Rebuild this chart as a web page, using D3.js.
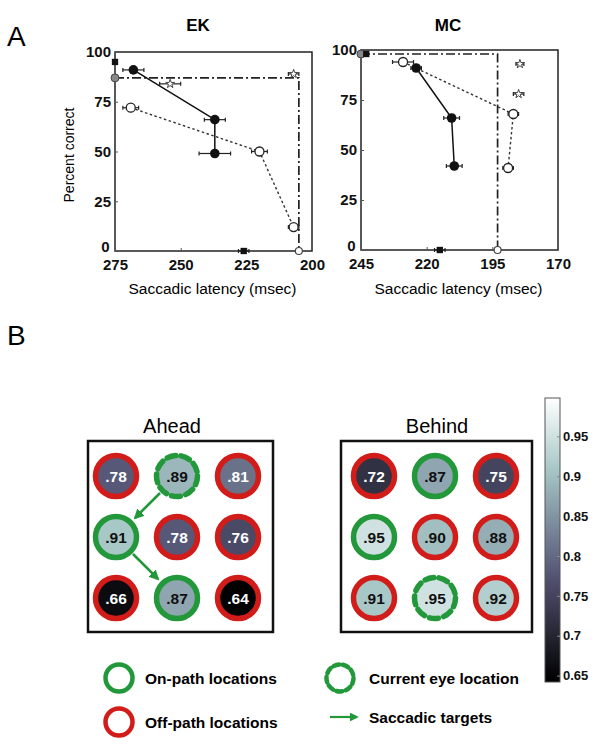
<!DOCTYPE html>
<html lang="en">
<head>
<meta charset="utf-8">
<title>Saccade figure</title>
<script src="https://cdn.jsdelivr.net/npm/d3@7"></script>
<style>
body { margin: 0; background: #fff; }
text { font-family: "Liberation Sans", Arial, Helvetica, sans-serif; }
</style>
</head>
<body>
<script>

// ---- Panel A data (latency in msec, percent correct) ----
var yTicks = [0, 25, 50, 75, 100];

var ekTicks = [275, 250, 225, 200];
var ekFilled = [{lat: 268, pc: 91, err: 4}, {lat: 237, pc: 66, err: 4}, {lat: 237, pc: 49, err: 6}];
var ekOpen = [{lat: 269, pc: 72, err: 3}, {lat: 220, pc: 50, err: 3}, {lat: 207, pc: 12, err: 2}];
var ekBound = [{lat: 275, pc: 87}, {lat: 205, pc: 87}, {lat: 205, pc: 0}];
var ekStars = [{lat: 254, pc: 84, err: 4}, {lat: 207, pc: 89, err: 2}];
var ekDots = [{lat: 275, pc: 95, err: 0}, {lat: 226, pc: 0, err: 2}];

var mcTicks = [245, 220, 195, 170];
var mcFilled = [{lat: 224, pc: 91, err: 2}, {lat: 210.5, pc: 66, err: 3}, {lat: 209.5, pc: 42, err: 3}];
var mcOpen = [{lat: 229, pc: 94, err: 4}, {lat: 187, pc: 68, err: 2}, {lat: 189, pc: 41, err: 2}];
var mcBound = [{lat: 245, pc: 98}, {lat: 193, pc: 98}, {lat: 193, pc: 0}];
var mcStars = [{lat: 184.5, pc: 93, err: 1.5}, {lat: 185, pc: 78, err: 2}];
var mcDots = [{lat: 243, pc: 98, err: 0}, {lat: 215, pc: 0, err: 2}];

// ---- Panel B data (proportion correct per grid location, row by row) ----
var aheadValues = [[.78, .89, .81], [.91, .78, .76], [.66, .87, .64]];
var aheadTypes = [["off", "eye", "off"], ["on", "off", "off"], ["off", "on", "off"]];
var aheadSaccades = [{from: [1, 0], to: [0, 1]}, {from: [0, 1], to: [1, 2]}];

var behindValues = [[.72, .87, .75], [.95, .90, .88], [.91, .95, .92]];
var behindTypes = [["off", "on", "off"], ["on", "off", "off"], ["off", "eye", "off"]];

var colorTicks = [0.65, 0.7, 0.75, 0.8, 0.85, 0.9, 0.95];
var legendItems = [
    {type: "on", label: "On-path locations"},
    {type: "off", label: "Off-path locations"},
    {type: "eye", label: "Current eye location"},
    {type: "arrow", label: "Saccadic targets"}
];

var w = 602;
var h = 749;
var green = "#22983a";
var red = "#d21c1a";

var svg = d3.select("body")
    .append("svg")
    .attr("width", w)
    .attr("height", h);

svg.append("rect").attr("width", w).attr("height", h).attr("fill", "#fff");

var defs = svg.append("defs");
defs.append("marker")
    .attr("id", "arrowhead")
    .attr("viewBox", "0 0 10 10")
    .attr("refX", 8).attr("refY", 5)
    .attr("markerWidth", 4).attr("markerHeight", 4)
    .attr("orient", "auto")
    .append("path")
    .attr("d", "M0,0L10,5L0,10Z")
    .attr("fill", green);

// panel letters
svg.append("text").attr("x", 7).attr("y", 46).attr("font-size", 28).text("A");
svg.append("text").attr("x", 7).attr("y", 345).attr("font-size", 28).text("B");

// ---------------- Panel A ----------------
function drawPlot(opt) {
    var x = d3.scaleLinear().domain(opt.xDomain).range([opt.left, opt.right]);
    var y = d3.scaleLinear().domain([0, 100]).range([opt.bottom, opt.top]);
    var g = svg.append("g");

    g.append("rect")
        .attr("x", opt.left).attr("y", opt.top)
        .attr("width", opt.right - opt.left).attr("height", opt.bottom - opt.top)
        .attr("fill", "none").attr("stroke", "#222").attr("stroke-width", 1.5);

    var yAxis = g.append("g")
        .attr("transform", "translate(" + opt.left + ",0)")
        .call(d3.axisLeft(y).tickValues(yTicks).tickSizeInner(-3).tickSizeOuter(0).tickPadding(4));
    var xAxis = g.append("g")
        .attr("transform", "translate(0," + opt.bottom + ")")
        .call(d3.axisBottom(x).tickValues(opt.ticks).tickSizeInner(-3).tickSizeOuter(0).tickPadding(8));
    [xAxis, yAxis].forEach(function(a) {
        a.select(".domain").remove();
        a.selectAll("line").attr("stroke", "#555");
        a.selectAll("text")
            .attr("font-size", 15).attr("font-weight", "bold")
            .attr("font-family", "Liberation Sans, Arial, sans-serif")
            .attr("fill", "#111");
    });
    // the zero label sits just above the corner, clear of the first x label
    yAxis.selectAll(".tick")
        .filter(function(d) { return d === 0; })
        .select("text").attr("dy", "0.02em").attr("dx", "-0.1em");

    g.append("text")
        .attr("x", opt.titleX).attr("y", 31)
        .attr("text-anchor", "middle")
        .attr("font-size", 17).attr("font-weight", "bold")
        .text(opt.title);

    g.append("text")
        .attr("x", (opt.left + opt.right) / 2 - 1).attr("y", 294)
        .attr("text-anchor", "middle")
        .attr("font-size", 15.5)
        .text("Saccadic latency (msec)");

    if (opt.yLabel) {
        g.append("text")
            .attr("transform", "translate(74,155) rotate(-90)")
            .attr("text-anchor", "middle")
            .attr("font-size", 14)
            .text("Percent correct");
    }

    var line = d3.line().x(function(d) { return x(d.lat); }).y(function(d) { return y(d.pc); });

    g.append("path").datum(opt.bound)
        .attr("d", line).attr("fill", "none")
        .attr("stroke", "#222").attr("stroke-width", 1.7)
        .attr("stroke-dasharray", "9,3,2,3");
    g.append("path").datum(opt.open)
        .attr("d", line).attr("fill", "none")
        .attr("stroke", "#333").attr("stroke-width", 1.4)
        .attr("stroke-dasharray", "2.5,2.5");
    g.append("path").datum(opt.filled)
        .attr("d", line).attr("fill", "none")
        .attr("stroke", "#111").attr("stroke-width", 1.5);

    // horizontal error bars
    var withErr = opt.filled.concat(opt.open, opt.stars, opt.dots).filter(function(d) { return d.err > 0; });
    var eb = g.selectAll(".eb").data(withErr).enter().append("g").attr("class", "eb");
    eb.append("line")
        .attr("x1", function(d) { return x(d.lat - d.err); })
        .attr("x2", function(d) { return x(d.lat + d.err); })
        .attr("y1", function(d) { return y(d.pc); })
        .attr("y2", function(d) { return y(d.pc); })
        .attr("stroke", "#222").attr("stroke-width", 1.2);
    [-1, 1].forEach(function(s) {
        eb.append("line")
            .attr("x1", function(d) { return x(d.lat + s * d.err); })
            .attr("x2", function(d) { return x(d.lat + s * d.err); })
            .attr("y1", function(d) { return y(d.pc) - 2; })
            .attr("y2", function(d) { return y(d.pc) + 2; })
            .attr("stroke", "#222").attr("stroke-width", 1.2);
    });

    // boundary end markers
    g.append("circle")
        .attr("cx", x(opt.bound[0].lat)).attr("cy", y(opt.bound[0].pc)).attr("r", 4)
        .attr("fill", "#888").attr("stroke", "#444");
    g.append("circle")
        .attr("cx", x(opt.bound[2].lat)).attr("cy", y(opt.bound[2].pc)).attr("r", 3.5)
        .attr("fill", "#fff").attr("stroke", "#444").attr("stroke-width", 1.2);

    g.selectAll(".star").data(opt.stars).enter().append("path")
        .attr("transform", function(d) { return "translate(" + x(d.lat) + "," + y(d.pc) + ")"; })
        .attr("d", d3.symbol().type(d3.symbolStar).size(24))
        .attr("fill", "#fff").attr("stroke", "#444").attr("stroke-width", 1);

    g.selectAll(".dot").data(opt.dots).enter().append("path")
        .attr("transform", function(d) { return "translate(" + x(d.lat) + "," + y(d.pc) + ")"; })
        .attr("d", d3.symbol().type(d3.symbolSquare).size(40))
        .attr("fill", "#111");

    g.selectAll(".open").data(opt.open).enter().append("circle")
        .attr("cx", function(d) { return x(d.lat); })
        .attr("cy", function(d) { return y(d.pc); })
        .attr("r", 4.5)
        .attr("fill", "#fff").attr("stroke", "#222").attr("stroke-width", 1.3);

    g.selectAll(".filled").data(opt.filled).enter().append("circle")
        .attr("cx", function(d) { return x(d.lat); })
        .attr("cy", function(d) { return y(d.pc); })
        .attr("r", 4.8)
        .attr("fill", "#111");
}

drawPlot({title: "EK", titleX: 198, yLabel: true, xDomain: [275, 200], ticks: ekTicks,
    left: 115, right: 312, top: 52, bottom: 251,
    filled: ekFilled, open: ekOpen, bound: ekBound, stars: ekStars, dots: ekDots});
drawPlot({title: "MC", titleX: 448, yLabel: false, xDomain: [245, 170], ticks: mcTicks,
    left: 361, right: 558, top: 50, bottom: 250,
    filled: mcFilled, open: mcOpen, bound: mcBound, stars: mcStars, dots: mcDots});

// ---------------- Panel B ----------------
// MATLAB "bone"-like colormap
var bone = d3.scaleLinear()
    .domain([0, 0.375, 0.75, 1])
    .range(["#000000", "#545474", "#a7c7c7", "#ffffff"])
    .interpolate(d3.interpolateRgb);
var valueToT = d3.scaleLinear().domain([0.642, 0.998]).range([0, 1]).clamp(true);
function cellColor(v) { return bone(valueToT(v)); }

function ring(g, cx, cy, type, r, sw, fillColor) {
    if (fillColor) {
        g.append("circle").attr("cx", cx).attr("cy", cy).attr("r", r).attr("fill", fillColor);
    }
    var c = g.append("circle")
        .attr("cx", cx).attr("cy", cy).attr("r", r)
        .attr("fill", "none")
        .attr("stroke", type === "off" ? red : green)
        .attr("stroke-width", sw);
    if (type === "eye") {
        var circ = 2 * Math.PI * r;
        var n = 9;
        c.attr("stroke-dasharray", (circ / n * 0.62) + "," + (circ / n * 0.38))
            .attr("stroke-linecap", "round");
    }
}

function drawGrid(opt) {
    var g = svg.append("g");
    var col = d3.scalePoint().domain([0, 1, 2]).range([opt.x0, opt.x1]);
    var row = d3.scalePoint().domain([0, 1, 2]).range([476, 598]);

    g.append("text")
        .attr("x", opt.titleX).attr("y", 433)
        .attr("text-anchor", "middle").attr("font-size", 20)
        .text(opt.title);

    g.append("rect")
        .attr("x", opt.boxL).attr("y", 441)
        .attr("width", opt.boxR - opt.boxL).attr("height", 191)
        .attr("fill", "none").attr("stroke", "#111").attr("stroke-width", 2.5);

    opt.values.forEach(function(rowVals, ri) {
        rowVals.forEach(function(v, ci) {
            ring(g, col(ci), row(ri), opt.types[ri][ci], 20.5, 5.5, cellColor(v));
            g.append("text")
                .attr("x", col(ci)).attr("y", row(ri) + 5.5)
                .attr("text-anchor", "middle")
                .attr("font-size", 15.5).attr("font-weight", "bold")
                .attr("fill", v < 0.86 ? "#fff" : "#111")
                .text(d3.format(".2f")(v).replace(/^0/, ""));
        });
    });

    (opt.saccades || []).forEach(function(s) {
        var ax = col(s.from[0]), ay = row(s.from[1]);
        var bx = col(s.to[0]), by = row(s.to[1]);
        var len = Math.hypot(bx - ax, by - ay);
        var ux = (bx - ax) / len, uy = (by - ay) / len;
        g.append("line")
            .attr("x1", ax + ux * 24).attr("y1", ay + uy * 24)
            .attr("x2", bx - ux * 27).attr("y2", by - uy * 27)
            .attr("stroke", green).attr("stroke-width", 2.6)
            .attr("marker-end", "url(#arrowhead)");
    });
}

drawGrid({title: "Ahead", titleX: 172, boxL: 88, boxR: 273, x0: 116, x1: 238,
    values: aheadValues, types: aheadTypes, saccades: aheadSaccades});
drawGrid({title: "Behind", titleX: 437, boxL: 341, boxR: 532, x0: 374, x1: 496,
    values: behindValues, types: behindTypes});

// colour bar
var cbY = d3.scaleLinear().domain([0.642, 0.998]).range([682, 398]);
var grad = defs.append("linearGradient")
    .attr("id", "cbgrad")
    .attr("x1", 0).attr("y1", 1).attr("x2", 0).attr("y2", 0);
d3.range(0, 1.0001, 0.05).forEach(function(t) {
    grad.append("stop").attr("offset", t).attr("stop-color", bone(t));
});
svg.append("rect")
    .attr("x", 545).attr("y", cbY(0.998))
    .attr("width", 15).attr("height", cbY(0.642) - cbY(0.998))
    .attr("fill", "url(#cbgrad)")
    .attr("stroke", "#555").attr("stroke-width", 1);
var cbAxis = svg.append("g")
    .attr("transform", "translate(560,0)")
    .call(d3.axisRight(cbY).tickValues(colorTicks).tickFormat(d3.format("")).tickSizeInner(-3).tickSizeOuter(0).tickPadding(3));
cbAxis.select(".domain").remove();
cbAxis.selectAll("line").attr("stroke", "#888");
cbAxis.selectAll("text")
    .attr("font-size", 13).attr("font-weight", "bold")
    .attr("font-family", "Liberation Sans, Arial, sans-serif")
    .attr("fill", "#111");

// legend
var legPos = [{x: 119, y: 678}, {x: 119, y: 722}, {x: 340, y: 678}, {x: 340, y: 717}];
legendItems.forEach(function(item, i) {
    var p = legPos[i];
    if (item.type === "arrow") {
        svg.append("line")
            .attr("x1", p.x - 10).attr("y1", p.y).attr("x2", p.x + 17).attr("y2", p.y)
            .attr("stroke", green).attr("stroke-width", 2.2)
            .attr("marker-end", "url(#arrowhead)");
    } else {
        ring(svg, p.x, p.y, item.type, 13.5, 4.5, null);
    }
    svg.append("text")
        .attr("x", p.x + (i < 2 ? 26 : 29)).attr("y", p.y + 5.5)
        .attr("font-size", 15.5).attr("font-weight", "bold")
        .text(item.label);
});

</script>
</body>
</html>
